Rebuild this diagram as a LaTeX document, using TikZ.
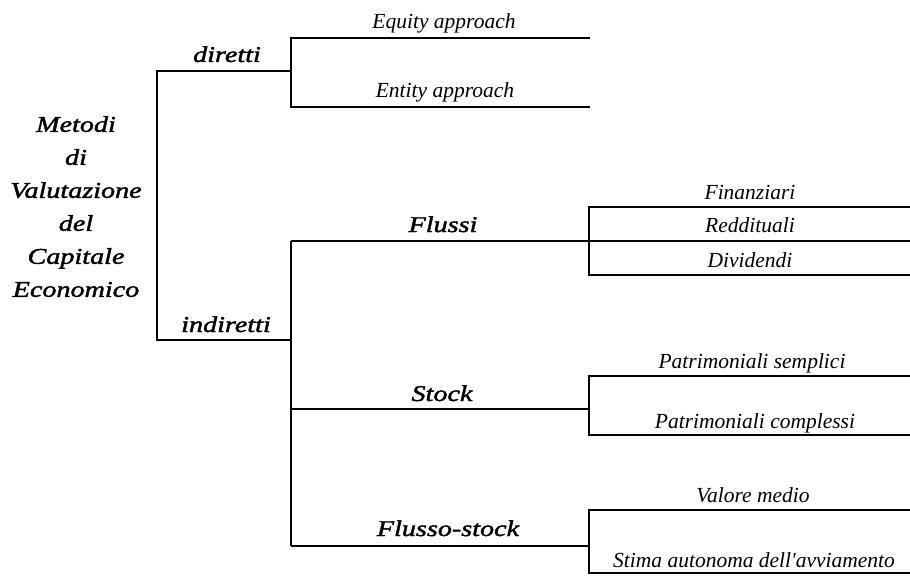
\documentclass[tikz,border=0pt]{standalone}
\usepackage{fontspec}
\setmainfont{Liberation Serif}
\newfontface\lblface[FakeStretch=1.25,RawFeature={embolden=1.8}]{Liberation Serif Italic}
\newfontface\leafface{Liberation Serif Italic}
\newcommand{\lblf}{\lblface\fontsize{22.5}{33}\selectfont}
\newcommand{\leaff}{\leafface\fontsize{21.5}{26}\selectfont}
\begin{document}
\begin{tikzpicture}[x=1pt,y=-1pt,
  br/.style={line width=2.6pt,line join=miter},
  lbl/.style={font=\lblf,anchor=base,inner sep=0pt},
  leaf/.style={font=\leaff,anchor=base,inner sep=0pt}]
\useasboundingbox (0,0) rectangle (910,583);
% junction coordinates
\coordinate (dirL) at (157,71);
\coordinate (dirR) at (291,71);
\coordinate (indL) at (157,340);
\coordinate (indR) at (291,340);
\coordinate (eqL) at (291,38);
\coordinate (eqR) at (590,38);
\coordinate (enL) at (291,107);
\coordinate (enR) at (590,107);
\coordinate (flL) at (291,241);
\coordinate (flR) at (910,241);
\coordinate (stL) at (291,409);
\coordinate (stR) at (589,409);
\coordinate (fsL) at (291,546);
\coordinate (fsR) at (589,546);
\coordinate (fiL) at (589,207);
\coordinate (fiR) at (910,207);
\coordinate (diL) at (589,275);
\coordinate (diR) at (910,275);
\coordinate (psL) at (589,376);
\coordinate (psR) at (910,376);
\coordinate (pcL) at (589,435);
\coordinate (pcR) at (910,435);
\coordinate (vmL) at (589,510);
\coordinate (vmR) at (910,510);
\coordinate (saL) at (589,573);
\coordinate (saR) at (910,573);
% root
\node[font=\lblf,align=center,anchor=north,inner sep=0pt] (root) at (76,116)
  {Metodi\\di\\Valutazione\\del\\Capitale\\Economico};
% main bracket
\draw[br] (dirR) -- (dirL) -- (indL) -- (indR);
% diretti bracket
\draw[br] (eqR) -- (eqL) -- (enL) -- (enR);
% indiretti bracket
\draw[br] (flL) -- (fsL);
\draw[br] (flL) -- (flR);
\draw[br] (stL) -- (stR);
\draw[br] (fsL) -- (fsR);
% leaf brackets
\draw[br] (fiR) -- (fiL) -- (diL) -- (diR);
\draw[br] (psR) -- (psL) -- (pcL) -- (pcR);
\draw[br] (vmR) -- (vmL) -- (saL) -- (saR);
% branch labels
\node[lbl] (diretti) at (227,62) {diretti};
\node[lbl] (indiretti) at (226,332) {indiretti};
\node[lbl] (flussi) at (443,232) {Flussi};
\node[lbl] (stock) at (442,401) {Stock};
\node[lbl] (flussostock) at (448,536) {Flusso-stock};
% leaf labels
\node[leaf] (equity) at (444,29) {Equity approach};
\node[leaf] (entity) at (445,98) {Entity approach};
\node[leaf] (finanziari) at (750,199) {Finanziari};
\node[leaf] (reddituali) at (750,232) {Reddituali};
\node[leaf] (dividendi) at (750,267) {Dividendi};
\node[leaf] (psemplici) at (752,368) {Patrimoniali semplici};
\node[leaf] (pcomplessi) at (755,428) {Patrimoniali complessi};
\node[leaf] (vmedio) at (753,502) {Valore medio};
\node[leaf] (stima) at (754,567) {Stima autonoma dell'avviamento};
\end{tikzpicture}
\end{document}
